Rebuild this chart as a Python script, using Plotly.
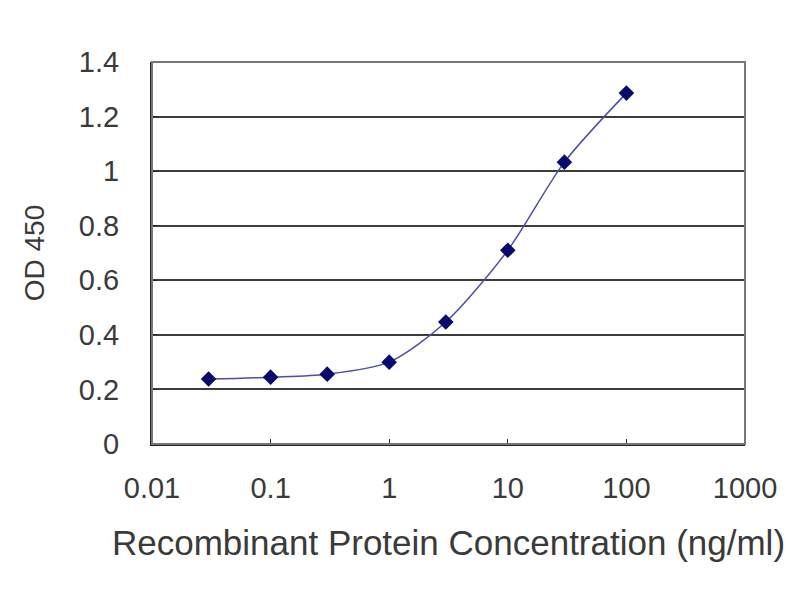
import plotly.graph_objects as go

concentration = [0.03, 0.1, 0.3, 1, 3, 10, 30, 100]
od450 = [0.238, 0.245, 0.256, 0.30, 0.447, 0.71, 1.033, 1.286]
x_ticks = [0.01, 0.1, 1, 10, 100, 1000]
x_tick_labels = ["0.01", "0.1", "1", "10", "100", "1000"]
y_ticks = [0, 0.2, 0.4, 0.6, 0.8, 1, 1.2, 1.4]
y_tick_labels = ["0", "0.2", "0.4", "0.6", "0.8", "1", "1.2", "1.4"]

fig = go.Figure()
fig.add_trace(go.Scatter(
    x=concentration, y=od450, mode="lines+markers",
    line=dict(color="#4e4eaa", width=1.5, shape="spline", smoothing=0.8),
    marker=dict(symbol="diamond", size=12, color="#0a0a6e"),
    showlegend=False,
))

fam = "Liberation Sans, Arial, sans-serif"
tick_font = dict(family=fam, size=29, color="#3a3a3a")
fig.update_layout(
    width=800, height=600,
    margin=dict(l=144, r=63, t=54, b=164),
    paper_bgcolor="white", plot_bgcolor="white",
    font=tick_font,
    xaxis=dict(
        type="log", range=[-2, 3], tickvals=x_ticks, ticktext=x_tick_labels,
        showgrid=False, zeroline=False, showline=True, linecolor="#222", linewidth=2,
        ticks="inside", ticklen=5, tickcolor="#222", mirror=False,
        ticklabelstandoff=17,
        title=dict(text="Recombinant Protein Concentration (ng/ml)", standoff=28,
                   font=dict(family=fam, size=35, color="#3a3a3a")),
        tickfont=tick_font,
    ),
    yaxis=dict(
        range=[0, 1.4], tickvals=y_ticks, ticktext=y_tick_labels,
        showgrid=True, gridcolor="#3c3c3c", gridwidth=2,
        zeroline=False, showline=True, linecolor="#222", linewidth=2,
        ticks="inside", ticklen=5, tickcolor="#222",
        ticklabelstandoff=25,
        title=dict(text="OD 450", standoff=26,
                   font=dict(family=fam, size=28, color="#3a3a3a")),
        tickfont=tick_font,
    ),
)
fig.add_shape(type="rect", xref="paper", yref="paper", x0=0, y0=0, x1=1, y1=1,
              line=dict(color="#777", width=2), layer="above")

fig.write_html("out.html")
